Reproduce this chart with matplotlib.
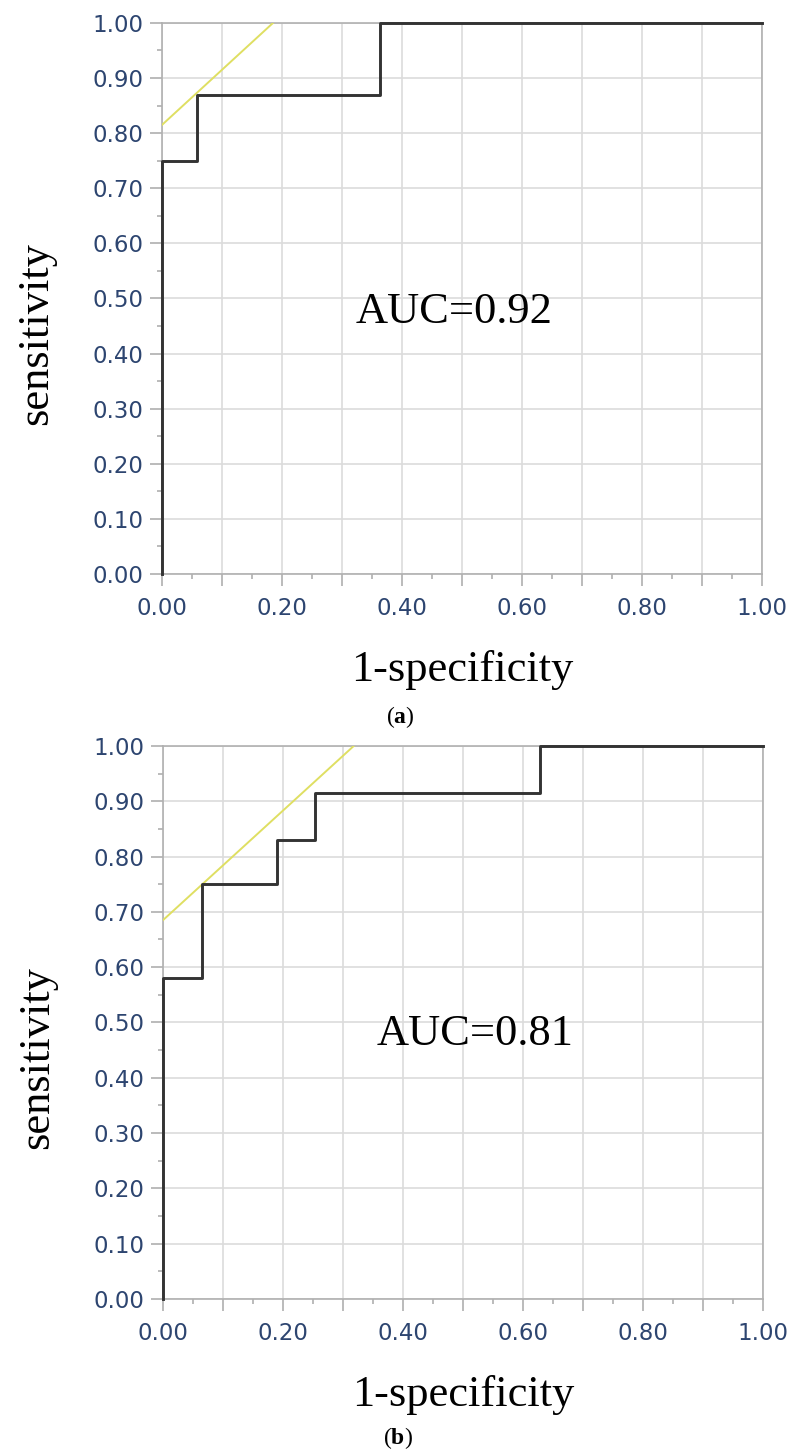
import matplotlib
matplotlib.use("Agg")
import matplotlib.pyplot as plt
from matplotlib.ticker import MultipleLocator, FormatStrFormatter

# ROC curve data
fpr_a = [0, 0, 0.058, 0.058, 0.363, 0.363, 1.0]
tpr_a = [0, 0.75, 0.75, 0.87, 0.87, 1.0, 1.0]
tangent_a_x = [0, 0.185]
tangent_a_y = [0.815, 1.0]
auc_a = "AUC=0.92"

fpr_b = [0, 0, 0.065, 0.065, 0.19, 0.19, 0.253, 0.253, 0.628, 0.628, 1.0]
tpr_b = [0, 0.58, 0.58, 0.75, 0.75, 0.83, 0.83, 0.915, 0.915, 1.0, 1.0]
tangent_b_x = [0, 0.318]
tangent_b_y = [0.685, 1.0]
auc_b = "AUC=0.81"

plt.rcParams["mathtext.fontset"] = "custom"
plt.rcParams["mathtext.rm"] = "Liberation Serif"
plt.rcParams["mathtext.bf"] = "Liberation Serif:bold"

serif = "Liberation Serif"
tick_color = "#2d4570"

fig = plt.figure(figsize=(7.88, 14.52), dpi=100)
ax_a = fig.add_axes([0.2056, 0.6047, 0.7614, 0.3795])
ax_b = fig.add_axes([0.2069, 0.1054, 0.7614, 0.3809])


def style_axes(ax):
    ax.set_xlim(0, 1)
    ax.set_ylim(0, 1)
    ax.xaxis.set_major_locator(MultipleLocator(0.1))
    ax.xaxis.set_minor_locator(MultipleLocator(0.05))
    ax.yaxis.set_major_locator(MultipleLocator(0.1))
    ax.yaxis.set_minor_locator(MultipleLocator(0.05))
    ax.yaxis.set_major_formatter(FormatStrFormatter("%.2f"))
    # x labels only every 0.2
    ax.xaxis.set_major_formatter(
        plt.FuncFormatter(lambda v, p: f"{v:.2f}" if round(v * 10) % 2 == 0 else ""))
    ax.grid(True, which="major", color="#dcdcdc", linewidth=1.2)
    ax.set_axisbelow(True)
    for s in ax.spines.values():
        s.set_color("#b0b0b0")
        s.set_linewidth(1.2)
    ax.tick_params(which="major", length=8.5, width=1.1, color="#a8a8a8",
                   labelsize=16.5, labelcolor=tick_color)
    ax.tick_params(which="minor", length=3.5, width=1.1, color="#a8a8a8")
    ax.tick_params(axis="x", which="major", pad=8)
    ax.tick_params(axis="y", which="major", pad=5)
    ax.set_xlabel("1-specificity", fontfamily=serif, fontsize=32, labelpad=22)
    ax.set_ylabel("sensitivity", fontfamily=serif, fontsize=32)
    ax.yaxis.set_label_coords(-0.177, 0.437)


for ax, fx, fy, tx, ty, auc, pos in [
    (ax_a, fpr_a, tpr_a, tangent_a_x, tangent_a_y, auc_a, (0.487, 0.455)),
    (ax_b, fpr_b, tpr_b, tangent_b_x, tangent_b_y, auc_b, (0.52, 0.46)),
]:
    style_axes(ax)
    ax.plot(tx, ty, color="#dfdf62", linewidth=1.4, zorder=3)
    ax.plot(fx, fy, color="#333333", linewidth=2.1, zorder=4, clip_on=False)
    ax.text(pos[0], pos[1], auc, fontfamily=serif, fontsize=32,
            ha="center", va="baseline")

fig.text(400 / 788, 1 - 723 / 1452, r"($\mathbf{a}$)", fontsize=17,
         ha="center", va="baseline", fontfamily=serif)
fig.text(398 / 788, 1 - 1444 / 1452, r"($\mathbf{b}$)", fontsize=17,
         ha="center", va="baseline", fontfamily=serif)

fig.savefig("out.png", dpi=100)
